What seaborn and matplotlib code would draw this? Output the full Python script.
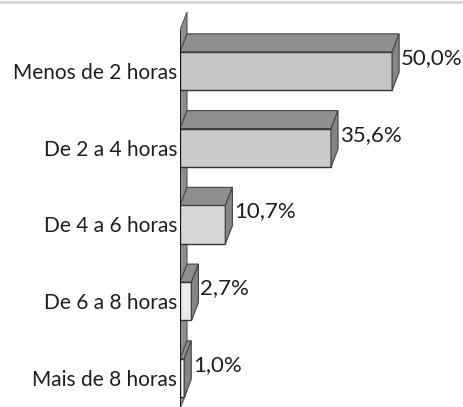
import matplotlib
matplotlib.use("Agg")
import matplotlib.pyplot as plt
import seaborn as sns
from matplotlib.patches import Polygon

# Data
categorias = ["Menos de 2 horas", "De 2 a 4 horas", "De 4 a 6 horas",
              "De 6 a 8 horas", "Mais de 8 horas"]
percentuais = [50.0, 35.6, 10.7, 2.7, 1.0]
rotulos = ["50,0%", "35,6%", "10,7%", "2,7%", "1,0%"]

cores_frente = ["#c6c6c6", "#cbcbcb", "#d8d8d8", "#ebebeb", "#f2f2f2"]

sns.set_style("white")
plt.rcParams['font.family'] = ['Lato', 'DejaVu Sans']

fig = plt.figure(figsize=(4.64, 4.07), dpi=100)
ax = fig.add_axes([180 / 464, 0, 280 / 464, 1])

sns.barplot(x=percentuais, y=categorias, hue=categorias, palette=cores_frente,
            orient="h", width=0.5, legend=False, edgecolor="#333333",
            linewidth=1, ax=ax, zorder=3)

ax.set_xlim(0, 66)
ax.set_ylim(4.378, -0.925)

# 3D depth (data units)
dx, dy = 1.65, 0.234

# back wall
topo, base = -0.534, 4.4
ax.add_patch(Polygon([(0, topo), (0, base), (dx, base - dy), (dx, topo - dy)],
                     closed=True, facecolor="#8e8e8e", edgecolor="#555555",
                     linewidth=0.8, zorder=1))
ax.vlines(0, topo, base, color="#111111", linewidth=1.2, zorder=4)

for i, p in enumerate(ax.patches[:len(percentuais)]):
    x0, y0 = p.get_x(), p.get_y()
    w, h = p.get_width(), p.get_height()
    x1, yt, yb = x0 + w, y0, y0 + h
    # top face
    ax.add_patch(Polygon([(x0, yt), (x1, yt), (x1 + dx, yt - dy), (x0 + dx, yt - dy)],
                         closed=True, facecolor="#8f8f8f", edgecolor="#444444",
                         linewidth=0.8, zorder=3))
    # side face
    ax.add_patch(Polygon([(x1, yt), (x1, yb), (x1 + dx, yb - dy), (x1 + dx, yt - dy)],
                         closed=True, facecolor="#858585", edgecolor="#444444",
                         linewidth=0.8, zorder=3))
    ax.text(x1 + dx + 0.4, i - 0.17, rotulos[i], ha="left", va="center",
            fontsize=16, color="#1e1e1e")

for s in ax.spines.values():
    s.set_visible(False)
ax.set_xticks([])
ax.tick_params(axis="y", length=0, pad=2, labelsize=15, labelcolor="#1e1e1e")
ax.set_xlabel("")
ax.set_ylabel("")

fig.add_artist(plt.Line2D([0, 1], [0.996, 0.996], color="#d4d4d4", linewidth=2))

fig.savefig("out.png", dpi=100)
